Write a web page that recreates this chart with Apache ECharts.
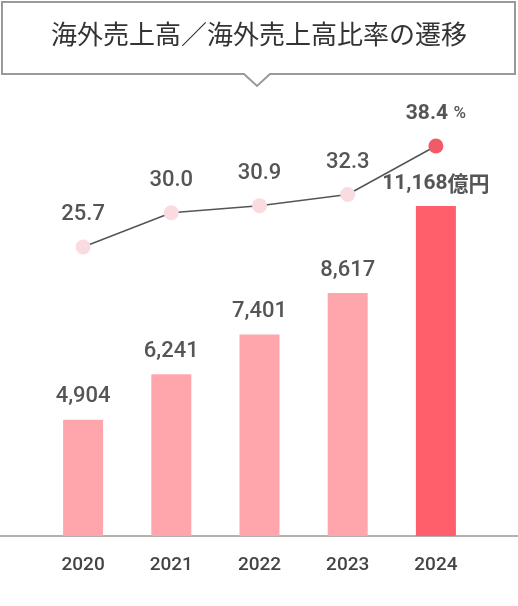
<!DOCTYPE html><html><head><meta charset="utf-8"><script src="https://cdn.jsdelivr.net/npm/echarts@6/dist/echarts.min.js"></script><style>html,body{margin:0;background:#fff}#c{width:518px;height:606px}</style></head><body><div id="c"></div><script>
const years=['2020','2021','2022','2023','2024'];
const sales=[4904,6241,7401,8617,11168];
const ratio=[25.7,30.0,30.9,32.3,38.4];
const title='海外売上高／海外売上高比率の遷移';
const F='Roboto,"Noto Sans CJK JP",sans-serif';
const ch=echarts.init(document.getElementById('c'));
ch.setOption({animation:false,
grid:[{left:39,right:38,top:206,bottom:70},{left:39,right:38,top:146,height:101}],
xAxis:[{type:'category',data:years,gridIndex:0,axisLine:{show:false},axisTick:{show:false},axisLabel:{margin:20,fontSize:19,fontWeight:500,color:'#444',fontFamily:F}},
{type:'category',data:years,gridIndex:1,show:false}],
yAxis:[{type:'value',gridIndex:0,min:1500,max:11168,show:false,splitLine:{show:false}},{type:'value',gridIndex:1,min:25.7,max:38.4,show:false,splitLine:{show:false}}],
graphic:[
{type:'polygon',shape:{points:[[2,2],[515,2],[515,74],[270,74],[257,86],[244,74],[2,74]]},style:{fill:'#fff',stroke:'#999',lineWidth:2}},
{type:'text',left:'center',top:21,style:{text:title,fontSize:26,fill:'#333',fontFamily:'"Noto Sans CJK JP",sans-serif',letterSpacing:3}},
{type:'line',shape:{x1:0,y1:536,x2:518,y2:536},style:{stroke:'#999',lineWidth:1.5}}
],
series:[
{type:'bar',xAxisIndex:0,yAxisIndex:0,barWidth:40,data:sales.map((v,i)=>({value:v,itemStyle:{color:i===4?'#ff5f6b':'#ffa6ad'},label:i===4?{formatter:'{b|11,168}{u|億円}',rich:{b:{fontSize:21,fontWeight:'bold',color:'#555',fontFamily:F},u:{fontSize:21,fontWeight:'bold',color:'#555',fontFamily:'"Noto Sans CJK JP",sans-serif'}}}:{}})),
 label:{show:true,position:'top',distance:12,fontSize:22,fontWeight:500,color:'#555',fontFamily:F,formatter:p=>p.value.toLocaleString('en-US')}},
{type:'line',xAxisIndex:1,yAxisIndex:1,data:ratio.map((v,i)=>({value:v,itemStyle:{color:i===4?'#f25a68':'#fadbe0'},label:i===4?{formatter:'{b|38.4} {u|%}',rich:{b:{fontSize:21,fontWeight:'bold',color:'#555',fontFamily:F},u:{fontSize:17,color:'#555',fontFamily:F}}}:{}})),
 symbol:'circle',symbolSize:15,lineStyle:{color:'#555',width:1.5},z:5,
 label:{show:true,position:'top',distance:14,fontSize:22,fontWeight:500,color:'#555',fontFamily:F,formatter:p=>p.value.toFixed(1)}}
]});
</script></body></html>
